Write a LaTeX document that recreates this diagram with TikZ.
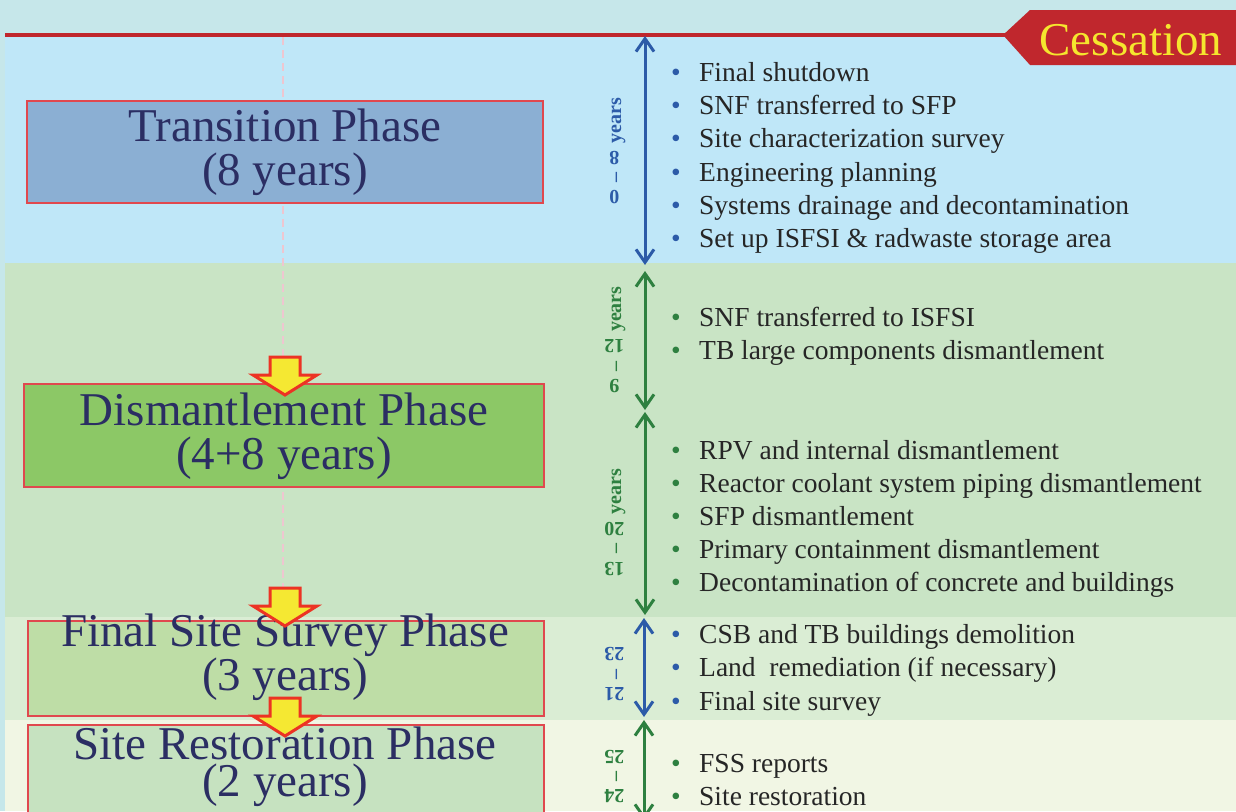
\documentclass[tikz,border=0pt]{standalone}
\usepackage{fontspec}
\usepackage{graphicx}
\setmainfont{Liberation Serif}
\usetikzlibrary{arrows.meta}
\definecolor{bgcyan}{HTML}{C6E7EA}
\definecolor{bandA}{HTML}{BFE7F8}
\definecolor{bandB}{HTML}{C9E4C5}
\definecolor{bandC}{HTML}{DAEDD4}
\definecolor{bandD}{HTML}{F1F6E4}
\definecolor{cessred}{HTML}{C0272D}
\definecolor{cessyellow}{HTML}{F5E62E}
\definecolor{navy}{HTML}{2B2E63}
\definecolor{tblue}{HTML}{2C5BA8}
\definecolor{tgreen}{HTML}{2E8040}
\definecolor{boxred}{HTML}{E0484E}
\definecolor{trfill}{HTML}{8BAFD3}
\definecolor{dmfill}{HTML}{8CC866}
\definecolor{fsfill}{HTML}{BEDDA6}
\definecolor{srfill}{HTML}{C6E2C0}
\definecolor{yfill}{HTML}{F5E832}
\definecolor{yline}{HTML}{EC3324}
\definecolor{itemtext}{HTML}{262626}
\definecolor{dashpink}{HTML}{EEC6D0}
\newcommand{\rdig}[1]{\rotatebox[origin=c]{90}{#1}}
\newcommand{\gap}{\hspace{8pt}}
\newcommand{\bl}[1]{\makebox[28pt][l]{\textcolor{#1}{\textbullet}}}
\begin{document}
\begin{tikzpicture}[x=1pt,y=-1pt,
  phasebox/.style={draw=boxred, line width=1.2pt, rectangle, inner sep=0pt},
  phasetext/.style={text=navy, align=center, inner sep=0pt},
  yrlabel/.style={rotate=90, anchor=base, inner sep=0pt, font=\bfseries\fontsize{20}{20}\selectfont},
  itemnode/.style={anchor=base west, inner sep=0pt, text=itemtext, font=\fontsize{27.5}{27.5}\selectfont},
  vspan/.style={line width=3pt, {Straight Barb[length=13pt,width=18pt]}-{Straight Barb[length=13pt,width=18pt]}},
  downarrow/.pic={\path[fill=yfill, draw=yline, line width=3pt, line join=miter]
     (-15,0) -- (15,0) -- (15,18) -- (32,18) -- (0,38) -- (-32,18) -- (-15,18) -- cycle;}
]
\fill[bgcyan] (0,0) rectangle (1236,811);
\useasboundingbox (0,0) rectangle (1236,811);
% bands
\fill[bandA] (5,37) rectangle (1236,263);
\fill[bandB] (5,263) rectangle (1236,617);
\fill[bandC] (5,617) rectangle (1236,720);
\fill[bandD] (5,720) rectangle (1236,811);
% dashed guide
\draw[dashpink, line width=2.5pt, dash pattern=on 8pt off 5pt] (283,37) -- (283,811);
% red line and cessation tag
\draw[cessred, line width=4pt] (5,35) -- (1010,35);
\fill[cessred] (1003,35) -- (1030,10) -- (1236,10) -- (1236,65) -- (1030,65) -- cycle;
\node[anchor=base, inner sep=0pt, text=cessyellow, font=\fontsize{47}{47}\selectfont] (cess) at (1131,55) {Cessation};
% phase boxes
\node[phasebox, fill=trfill, minimum width=516pt, minimum height=102pt] (trbox) at (285,152) {};
\node[phasetext, font=\fontsize{47}{44}\selectfont] (trtext) at (285,152.5) {Transition Phase\\(8 years)};
\node[phasebox, fill=dmfill, minimum width=520pt, minimum height=103pt] (dmbox) at (284,435.5) {};
\node[phasetext, font=\fontsize{47}{44}\selectfont] (dmtext) at (284,436) {Dismantlement Phase\\(4+8 years)};
\node[phasebox, fill=fsfill, minimum width=516pt, minimum height=95pt] (fsbox) at (286,668.5) {};
\node[phasetext, font=\fontsize{47}{42}\selectfont] (fstext) at (285,657.5) {Final Site Survey Phase\\(3 years)};
\node[phasebox, fill=srfill, minimum width=516pt, minimum height=105pt] (srbox) at (286,777.5) {};
\node[phasetext, font=\fontsize{47}{37}\selectfont] (srtext) at (285,767) {Site Restoration Phase\\(2 years)};
% yellow arrows
\pic at (285,357) {downarrow};
\pic at (285,588) {downarrow};
\pic at (285,698) {downarrow};
% span arrows
\coordinate (s1a) at (645,36);  \coordinate (s1b) at (645,265);
\coordinate (s2a) at (645,271); \coordinate (s2b) at (645,410);
\coordinate (s3a) at (645,412); \coordinate (s3b) at (645,615);
\coordinate (s4a) at (644,618); \coordinate (s4b) at (644,717);
\coordinate (s5a) at (644,720); \coordinate (s5b) at (644,820);
\draw[vspan, tblue] (s1a) -- (s1b);
\draw[vspan, tgreen] (s2a) -- (s2b);
\draw[vspan, tgreen] (s3a) -- (s3b);
\draw[vspan, tblue] (s4a) -- (s4b);
\draw[vspan, tgreen] (s5a) -- (s5b);
% year labels
\node[yrlabel, text=tblue] (y1) at (621,151) {\rdig{0}\gap--\gap\rdig{8}\gap years};
\node[yrlabel, text=tgreen] (y2) at (621,339.5) {\rdig{9}\gap--\gap\rdig{12}\gap years};
\node[yrlabel, text=tgreen] (y3) at (621,522) {\rdig{13}\gap--\gap\rdig{20}\gap years};
\node[yrlabel, text=tblue] (y4) at (621,674) {\rdig{21}\gap--\gap\rdig{23}};
\node[yrlabel, text=tgreen] (y5) at (621,776.5) {\rdig{24}\gap--\gap\rdig{25}};
% items
\node[itemnode] (i11) at (671,81) {\bl{tblue}Final shutdown};
\node[itemnode] (i12) at (671,114) {\bl{tblue}SNF transferred to SFP};
\node[itemnode] (i13) at (671,147) {\bl{tblue}Site characterization survey};
\node[itemnode] (i14) at (671,181) {\bl{tblue}Engineering planning};
\node[itemnode] (i15) at (671,214) {\bl{tblue}Systems drainage and decontamination};
\node[itemnode] (i16) at (671,247) {\bl{tblue}Set up ISFSI \& radwaste storage area};
\node[itemnode] (i21) at (671,326) {\bl{tgreen}SNF transferred to ISFSI};
\node[itemnode] (i22) at (671,359) {\bl{tgreen}TB large components dismantlement};
\node[itemnode] (i31) at (671,459) {\bl{tgreen}RPV and internal dismantlement};
\node[itemnode] (i32) at (671,492) {\bl{tgreen}Reactor coolant system piping dismantlement};
\node[itemnode] (i33) at (671,525) {\bl{tgreen}SFP dismantlement};
\node[itemnode] (i34) at (671,558) {\bl{tgreen}Primary containment dismantlement};
\node[itemnode] (i35) at (671,591) {\bl{tgreen}Decontamination of concrete and buildings};
\node[itemnode] (i41) at (671,643) {\bl{tblue}CSB and TB buildings demolition};
\node[itemnode] (i42) at (671,676) {\bl{tblue}Land\ \ remediation (if necessary)};
\node[itemnode] (i43) at (671,710) {\bl{tblue}Final site survey};
\node[itemnode] (i51) at (671,772) {\bl{tgreen}FSS reports};
\node[itemnode] (i52) at (671,805) {\bl{tgreen}Site restoration};
\end{tikzpicture}
\end{document}
